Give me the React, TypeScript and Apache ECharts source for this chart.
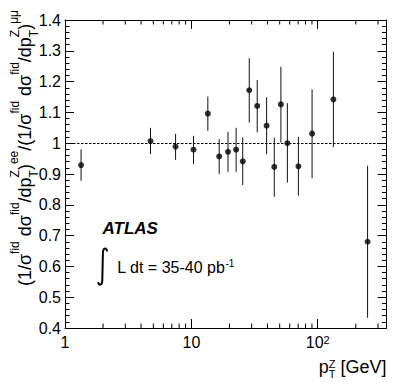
import React, { useEffect, useRef } from "react";
import * as echarts from "echarts";

const FONT = '"Liberation Sans", Arial, Helvetica, sans-serif';

// ---- data ----
const ptZ = [1.34, 4.75, 7.5, 10.4, 13.5, 16.6, 19.5, 22.6, 25.5, 28.7, 33.2, 39.4, 45.3, 51.1, 57.5, 70.3, 90.2, 133, 248];
const ratio = [0.929, 1.007, 0.989, 0.979, 1.096, 0.957, 0.972, 0.979, 0.941, 1.172, 1.121, 1.057, 0.923, 1.126, 1.0, 0.925, 1.031, 1.142, 0.68];
const errLow = [0.878, 0.965, 0.946, 0.932, 1.04, 0.9, 0.907, 0.907, 0.864, 1.067, 1.035, 0.964, 0.826, 1.002, 0.872, 0.83, 0.886, 0.987, 0.433];
const errHigh = [0.98, 1.05, 1.03, 1.024, 1.151, 1.013, 1.037, 1.05, 1.019, 1.276, 1.205, 1.149, 1.018, 1.248, 1.13, 1.021, 1.175, 1.297, 0.927];
const referenceRatio = 1;

// ---- axes / ticks ----
const xMin = 1;
const xMax = 350;
const xMinorTicks = [2, 3, 4, 5, 6, 7, 8, 9, 20, 30, 40, 50, 60, 70, 80, 90, 200, 300];
const xMajorLabels: Record<number, string> = { 0: "{b|1}", 1: "{b|10}", 2: "{b|10}{s|2}" };
const yMin = 0.4;
const yMax = 1.4;
const yInterval = 0.1;

// ---- texts ----
const experimentLabel = "ATLAS";
const lumiLabel = "L dt = 35-40 pb";
const lumiExponent = "-1";

// integral sign outline
echarts.graphic.registerShape(
  "integralSign",
  echarts.graphic.extendPath(
    "M107,251.5 C107,247.5 103.2,247 102.9,252.5 L102.3,280.5 C102.1,286 98.3,285.5 98.3,282",
    {}
  )
);

type Piece = { t: string; size: number; dy: number; under?: Piece };

function makeMeasure() {
  const ctx = document.createElement("canvas").getContext("2d") as CanvasRenderingContext2D;
  return (t: string, size: number, style = "normal", weight = "normal") => {
    ctx.font = `${style} ${weight} ${size}px ${FONT}`;
    return ctx.measureText(t).width;
  };
}

function txt(t: string, x: number, baseline: number, size: number, fontStyle = "normal", weight = "normal") {
  return {
    type: "text",
    x,
    y: baseline - 0.3465 * size,
    silent: true,
    style: {
      text: t,
      font: `${fontStyle} ${weight} ${size}px ${FONT}`,
      fill: "#000",
      align: "left",
      verticalAlign: "middle",
      textAlign: "left",
      textVerticalAlign: "middle",
    },
  };
}

function buildPieces(pieces: Piece[], measure: (t: string, s: number) => number) {
  const els: any[] = [];
  let x = 0;
  for (const p of pieces) {
    let adv = measure(p.t, p.size);
    els.push(txt(p.t, x, p.dy, p.size));
    if (p.under) {
      els.push(txt(p.under.t, x, p.under.dy, p.under.size));
      adv = Math.max(adv, measure(p.under.t, p.under.size));
    }
    x += adv;
  }
  return { els, width: x };
}

export default function App() {
  const ref = useRef<HTMLDivElement>(null);

  useEffect(() => {
    if (!ref.current) return;
    const chart = echarts.init(ref.current, undefined, { renderer: "svg" });
    const measure = makeMeasure();

    // y-axis title
    const M = 18;
    const S = 12;
    const sup = -12;
    const supP = -13.5;
    const sub = 6.5;
    const yTitle = buildPieces(
      [
        { t: "(1/\u03C3", size: M, dy: 0 },
        { t: "fid", size: S, dy: sup },
        { t: " d\u03C3", size: M, dy: 0 },
        { t: "fid", size: S, dy: sup },
        { t: "/dp", size: M, dy: 0 },
        { t: "T", size: S, dy: sub, under: { t: "Z", size: S, dy: sup } },
        { t: ")", size: M, dy: 0 },
        { t: "ee", size: S, dy: supP },
        { t: "/(1/\u03C3", size: M, dy: 0 },
        { t: "fid", size: S, dy: sup },
        { t: " d\u03C3", size: M, dy: 0 },
        { t: "fid", size: S, dy: sup },
        { t: "/dp", size: M, dy: 0 },
        { t: "T", size: S, dy: sub, under: { t: "Z", size: S, dy: sup } },
        { t: ")", size: M, dy: 0 },
        { t: "\u03BC\u03BC", size: S, dy: supP },
      ],
      measure
    );

    // x-axis title
    const XM = 18;
    const XS = 11;
    const xTitle = buildPieces(
      [
        { t: "p", size: XM, dy: 0 },
        { t: "T", size: XS, dy: 5, under: { t: "Z", size: XS, dy: -5.5 } },
        { t: " [GeV]", size: XM, dy: 0 },
      ],
      measure
    );

    // luminosity text
    const lumi = buildPieces(
      [
        { t: lumiLabel, size: 16, dy: 0 },
        { t: lumiExponent, size: 10, dy: -6.8 },
      ],
      measure
    );

    const xLabelFormatter = (v: number) => {
      const l = Math.log10(v);
      const r = Math.round(l);
      if (Math.abs(l - r) > 1e-6) return "";
      return xMajorLabels[r] ?? "";
    };
    const yLabelFormatter = (v: number) => {
      const s = (Math.round(v * 10) / 10).toFixed(1);
      return s === "1.0" ? "1" : s;
    };

    const axisLine = { show: true, onZero: false, lineStyle: { color: "#000", width: 1 } };
    const baseX = {
      type: "log",
      logBase: 10,
      min: xMin,
      max: xMax,
      axisLine,
      splitLine: { show: false },
      axisTick: { show: true, inside: true, length: 9, lineStyle: { color: "#000", width: 1 } },
    };
    const baseY = {
      type: "value",
      min: yMin,
      max: yMax,
      interval: yInterval,
      axisLine,
      splitLine: { show: false },
      axisTick: { show: true, inside: true, length: 9, lineStyle: { color: "#000", width: 1 } },
      minorTick: { show: true, splitNumber: 5, length: 4.5, lineStyle: { color: "#000", width: 1 } },
    };

    chart.setOption({
      animation: false,
      backgroundColor: "#fff",
      grid: { left: 65, right: 20.5, top: 20, bottom: 63, containLabel: false },
      xAxis: [
        {
          ...baseX,
          position: "bottom",
          axisLabel: {
            show: true,
            formatter: xLabelFormatter,
            fontSize: 16,
            fontFamily: FONT,
            color: "#000",
            margin: 6,
            showMinLabel: true,
            showMaxLabel: true,
            rich: {
              b: { fontSize: 16, fontFamily: FONT, color: "#000" },
              s: { fontSize: 11, fontFamily: FONT, color: "#000", verticalAlign: "top", padding: [0, 0, 4, 0] },
            },
          },
        },
        { ...baseX, position: "top", axisLabel: { show: false } },
      ],
      yAxis: [
        {
          ...baseY,
          position: "left",
          axisLabel: { show: true, formatter: yLabelFormatter, fontSize: 16, fontFamily: FONT, color: "#000", margin: 4 },
        },
        { ...baseY, position: "right", axisLabel: { show: false } },
      ],
      series: [
        {
          type: "custom",
          xAxisIndex: 0,
          yAxisIndex: 0,
          data: xMinorTicks.map((v) => [v, referenceRatio]),
          encode: { x: 0, y: 1 },
          silent: true,
          renderItem: (params: any, api: any) => {
            const p = api.coord([api.value(0), api.value(1)]);
            const cs = params.coordSys;
            const bottom = cs.y + cs.height;
            return {
              type: "group",
              children: [
                { type: "line", shape: { x1: p[0], y1: bottom, x2: p[0], y2: bottom - 4.5 }, style: { stroke: "#000", lineWidth: 1 } },
                { type: "line", shape: { x1: p[0], y1: cs.y, x2: p[0], y2: cs.y + 4.5 }, style: { stroke: "#000", lineWidth: 1 } },
              ],
            };
          },
          z: 1,
        },
        {
          type: "custom",
          data: ptZ.map((x, i) => [x, errLow[i], errHigh[i]]),
          encode: { x: 0, y: [1, 2] },
          silent: true,
          renderItem: (_params: any, api: any) => {
            const lo = api.coord([api.value(0), api.value(1)]);
            const hi = api.coord([api.value(0), api.value(2)]);
            return {
              type: "line",
              shape: { x1: lo[0], y1: lo[1], x2: hi[0], y2: hi[1] },
              style: { stroke: "#111", lineWidth: 1 },
            };
          },
          z: 2,
        },
        {
          type: "scatter",
          data: ptZ.map((x, i) => [x, ratio[i]]),
          symbol: "circle",
          symbolSize: 6,
          itemStyle: { color: "#000" },
          silent: true,
          z: 3,
          markLine: {
            silent: true,
            symbol: ["none", "none"],
            label: { show: false },
            lineStyle: { color: "#000", width: 1, type: [2.5, 1.5] },
            data: [{ yAxis: referenceRatio }],
          },
        },
      ],
      graphic: {
        elements: [
          txt(experimentLabel, 102.5, 234, 17, "italic", "bold"),
          {
            type: "integralSign",
            silent: true,
            style: { stroke: "#000", lineWidth: 2, fill: "none" },
          },
          { type: "group", x: 117.3, y: 273.3, children: lumi.els },
          { type: "group", x: 386.5 - xTitle.width, y: 373.3, children: xTitle.els },
          { type: "group", x: 31.5, y: 148 + yTitle.width / 2, rotation: Math.PI / 2, children: yTitle.els },
        ],
      },
    });

    return () => chart.dispose();
  }, []);

  return (
    <div
      ref={ref}
      style={{ position: "fixed", left: 0, top: 0, width: 407, height: 391, background: "#fff" }}
    />
  );
}
